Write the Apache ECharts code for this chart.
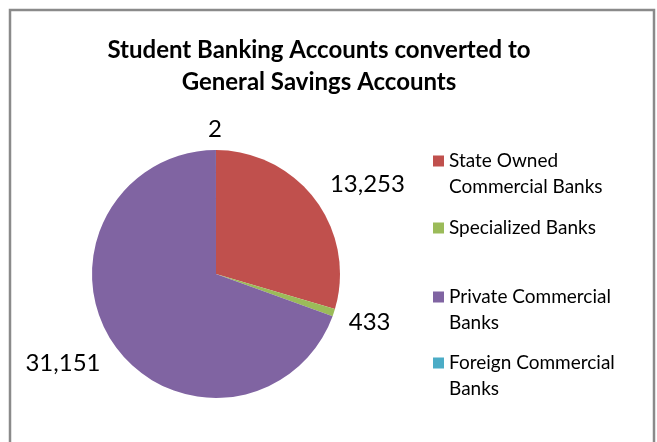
<!DOCTYPE html>
<html>
<head>
<meta charset="utf-8">
<script src="https://cdn.jsdelivr.net/npm/echarts@6/dist/echarts.min.js"></script>
<style>
  html, body { margin: 0; padding: 0; background: #fff; }
  #chart { width: 657px; height: 442px; }
</style>
</head>
<body>
<div id="chart"></div>
<script>
// Student banking accounts converted to general savings accounts, by bank group
const categories = [
  'State Owned Commercial Banks',
  'Specialized Banks',
  'Private Commercial Banks',
  'Foreign Commercial Banks'
];
const accounts = [13253, 433, 31151, 2];
const colors = ['#C0504D', '#9BBB59', '#8064A2', '#4BACC6'];
// legend text, wrapped the way it is shown
const legendLabels = {
  'State Owned Commercial Banks': 'State Owned\nCommercial Banks',
  'Specialized Banks': 'Specialized Banks',
  'Private Commercial Banks': 'Private Commercial\nBanks',
  'Foreign Commercial Banks': 'Foreign Commercial\nBanks'
};

const FONT = 'Lato, "Open Sans", sans-serif';
const LINE = 26;
const chart = echarts.init(document.getElementById('chart'), null, { renderer: 'canvas' });

// small per-slice nudges of the value labels (px)
const labelNudge = [[-3, -2], [-6, 3], [4, 5], [6, 1]];

// Two-line entries get a taller icon box whose square sits at the top,
// so the swatch lines up with the first text line.
const tallIcon = 'path://M0,0L11,0L11,11L0,11ZM0,' + (11 + LINE) + 'L11,' + (11 + LINE);

const legendTops = [148, 215, 284, 350];
const legends = categories.map((name, i) => {
  const twoLines = legendLabels[name].includes('\n');
  return {
    data: [name],
    left: 433,
    top: legendTops[i],
    orient: 'vertical',
    itemWidth: 11,
    itemHeight: twoLines ? 11 + LINE : 11,
    itemGap: 0,
    padding: 0,
    icon: twoLines ? tallIcon : 'rect',
    selectedMode: false,
    formatter: n => legendLabels[n],
    textStyle: {
      fontFamily: FONT,
      fontSize: 19,
      color: '#000',
      lineHeight: LINE
    }
  };
});

chart.setOption({
  animation: false,
  color: colors,
  graphic: [{
    type: 'rect',
    shape: { x: 10, y: 10, width: 644, height: 460 },
    style: { fill: 'none', stroke: '#8a8a8a', lineWidth: 2.5 },
    silent: true
  }],
  title: {
    text: 'Student Banking Accounts converted to\nGeneral Savings Accounts',
    left: 314,
    top: 29,
    textAlign: 'center',
    textStyle: {
      fontFamily: FONT,
      fontWeight: 'bold',
      fontSize: 24,
      lineHeight: 32,
      color: '#000'
    }
  },
  legend: legends,
  series: [{
    type: 'pie',
    center: [216, 274],
    radius: 124,
    startAngle: 90,
    clockwise: true,
    avoidLabelOverlap: false,
    data: categories.map((name, i) => ({
      name,
      value: accounts[i],
      label: { offset: labelNudge[i] }
    })),
    itemStyle: { borderWidth: 0 },
    label: {
      show: true,
      position: 'outside',
      distanceToLabelLine: 0,
      formatter: p => p.value.toLocaleString('en-US'),
      fontFamily: FONT,
      fontSize: 24,
      color: '#000'
    },
    labelLine: { show: false, length: 22, length2: 0 },
    emphasis: { disabled: true }
  }]
});
</script>
</body>
</html>
